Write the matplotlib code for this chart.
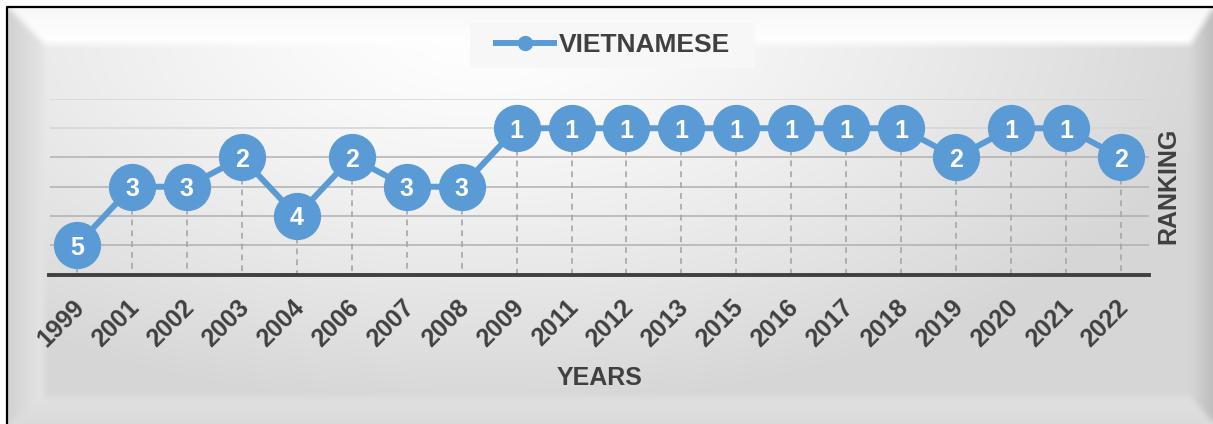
import numpy as np
import matplotlib.pyplot as plt
import matplotlib.transforms as mtransforms
from matplotlib.lines import Line2D
from matplotlib.patches import Rectangle

years = ['1999', '2001', '2002', '2003', '2004', '2006', '2007', '2008', '2009', '2011',
         '2012', '2013', '2015', '2016', '2017', '2018', '2019', '2020', '2021', '2022']
ranks = [5, 3, 3, 2, 4, 2, 3, 3, 1, 1, 1, 1, 1, 1, 1, 1, 2, 1, 1, 2]
series_name = 'VIETNAMESE'

plt.rcParams['font.family'] = ['Liberation Sans', 'DejaVu Sans']
BLUE = '#5B9BD5'
DARK = '#404040'

W, H = 1213, 424
fig = plt.figure(figsize=(W / 100, H / 100), dpi=100)

# background: bevelled panel with soft radial gradient
yy, xx = np.mgrid[0:H, 0:W].astype(float)
t = np.sqrt(((xx - 480) / 750) ** 2 + ((yy - 30) / 380) ** 2)
img = 1 - 0.16 * np.clip(t, 0, 1) ** 1.3
ox0, oy0, ox1, oy1 = 7, 7, 1213, 422
ix0, iy0, ix1, iy1 = 44, 44, 1190, 396
dl = (xx - ox0) / (ix0 - ox0)
dr = (ox1 - xx) / (ox1 - ix1)
dt = (yy - oy0) / (iy0 - oy0)
db = (oy1 - yy) / (oy1 - iy1)
d = np.stack([dl, dr, dt, db])
side = d.argmin(axis=0)
dmin = d.min(axis=0)
bevel = dmin < 1
f = np.clip(dmin, 0, 1)
lo = np.array([0.82, 0.74, 0.97, 0.86])
hi = np.array([0.90, 0.84, 1.00, 0.88])
bev_val = lo[side] + (hi[side] - lo[side]) * f
img = np.where(bevel, bev_val, img)

# soften the bevel edges
k = np.ones(9) / 9
img = np.apply_along_axis(lambda r: np.convolve(np.pad(r, 4, mode='edge'), k, 'valid'), 1, img)
img = np.apply_along_axis(lambda c: np.convolve(np.pad(c, 4, mode='edge'), k, 'valid'), 0, img)
img[(xx < ox0) | (yy < oy0)] = 1.0
rgb = np.dstack([img, img, img])

bg = fig.add_axes([0, 0, 1, 1])
bg.imshow(rgb, extent=[0, W, H, 0], aspect='auto', interpolation='bilinear')
bg.plot([ox0, ox0, W], [H, oy0, oy0], color='black', lw=1.6)
bg.add_patch(Rectangle((470, 23), 285, 45, facecolor='#f7f7f7', edgecolor='none'))
bg.set_xlim(0, W)
bg.set_ylim(H, 0)
bg.axis('off')

# main chart
ax = fig.add_axes([49.5 / W, 1 - 274.5 / H, 1099 / W, 175.5 / H])
ax.patch.set_alpha(0)
x = np.arange(len(years))

for g in range(6):
    ax.axhline(g, color='#d4d4d4' if g < 2 else '#b0b0b0', lw=1.1, zorder=1)

ax.vlines(x, ranks, 6, colors='#a6a6a6', linestyles=(0, (3.5, 3)), lw=1.2, zorder=2)
ax.plot(x, ranks, '-o', color=BLUE, lw=4.3, ms=33, clip_on=False, zorder=3)
for xi, r in zip(x, ranks):
    ax.text(xi, r, str(r), ha='center', va='center_baseline', color='white',
            fontsize=18, fontweight='bold', zorder=4)

ax.set_xlim(-0.5, len(years) - 0.5)
ax.set_ylim(6, 0)
ax.set_yticks([])
ax.set_xticks(x)
ax.set_xticklabels(years, rotation=45, ha='right', va='top', rotation_mode='anchor',
                   fontsize=18, fontweight='bold', color=DARK)
ax.tick_params(axis='x', length=0, pad=15)
shift = mtransforms.ScaledTranslation(-5 / 100, 0, fig.dpi_scale_trans)
for lab in ax.get_xticklabels():
    lab.set_transform(lab.get_transform() + shift)
for s in ['top', 'left', 'right']:
    ax.spines[s].set_visible(False)
ax.spines['bottom'].set_color(DARK)
ax.spines['bottom'].set_linewidth(2.8)
ax.spines['bottom'].set_zorder(5)

fig.text(600 / W, 1 - 378 / H, 'YEARS', ha='center', va='center',
         fontsize=18, fontweight='bold', color=DARK)
fig.text(1168 / W, 1 - 186 / H, 'RANKING', ha='center', va='center', rotation=90,
         fontsize=18, fontweight='bold', color=DARK)

handle = Line2D([], [], color=BLUE, lw=4.3, marker='o', ms=10)
leg = fig.legend([handle], [series_name], loc='center', bbox_to_anchor=(613 / W, 1 - 45.5 / H),
                 frameon=False, handlelength=2.2, handletextpad=0.15,
                 prop={'size': 19, 'weight': 'bold'})
for txt in leg.get_texts():
    txt.set_color(DARK)

fig.savefig('out.png', dpi=100)
